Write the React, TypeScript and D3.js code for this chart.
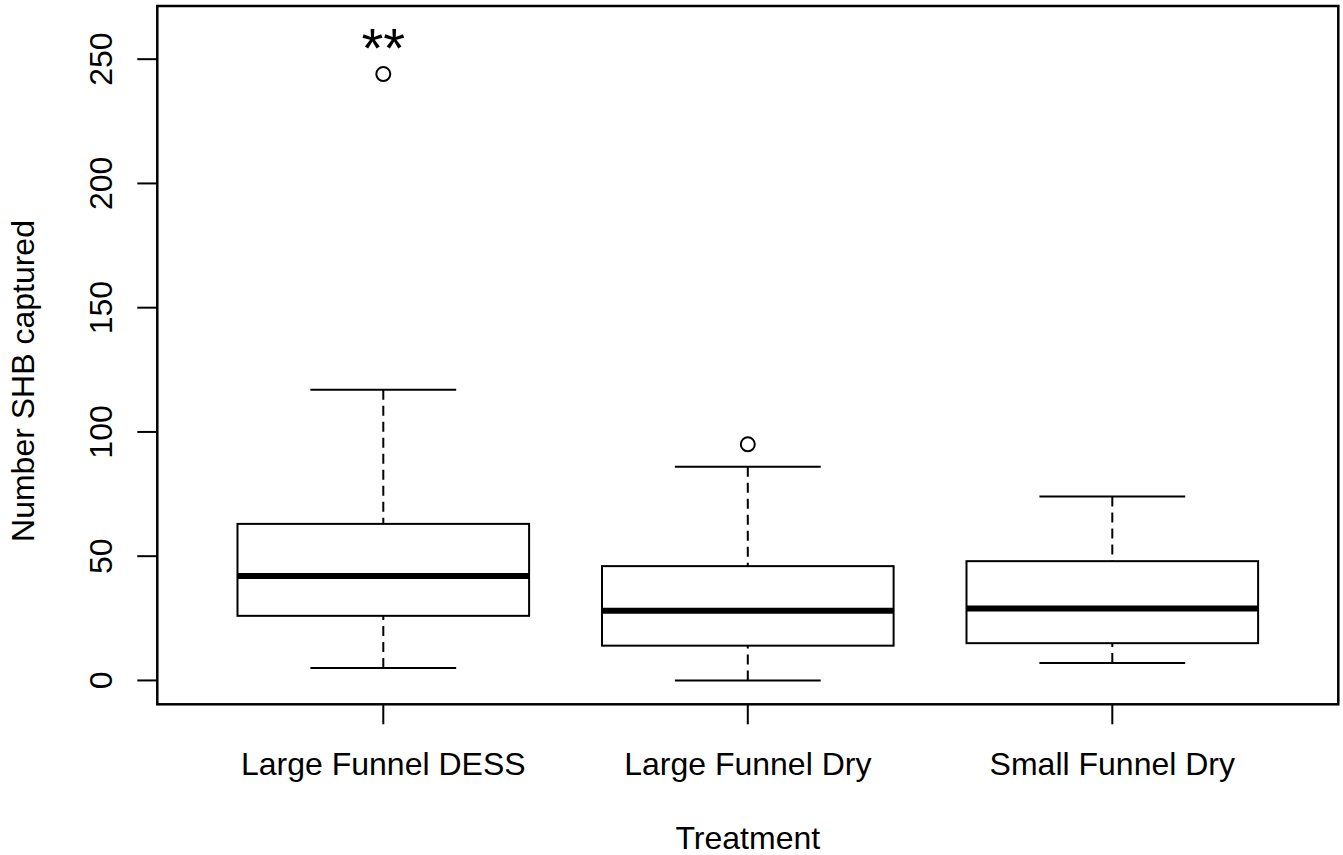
import React from "react";
import * as d3 from "d3";

// Trap catch of small hive beetles (SHB) by treatment
const categories = ["Large Funnel DESS", "Large Funnel Dry", "Small Funnel Dry"];
const lowerWhisker = [5, 0, 7];
const q1 = [26, 14, 15];
const median = [42, 28, 29];
const q3 = [63, 46, 48];
const upperWhisker = [117, 86, 74];
const outliers: number[][] = [[244], [95], []];
const yTicks = [0, 50, 100, 150, 200, 250];
const significance = ["**", "", ""];
const significanceLevel = 255;

const W = 1343;
const H = 855;
const plot = { left: 157.3, right: 1338.3, top: 6, bottom: 704.3 };
const FONT = "'Liberation Sans', Arial, Helvetica, sans-serif";

export default function App() {
  const x = d3.scaleLinear().domain([0.38, 3.62]).range([plot.left, plot.right]);
  const y = d3.scaleLinear().domain([-9.6, 271.4]).range([plot.bottom, plot.top]);
  const boxHalf = 0.4;
  const capHalf = 0.2;

  return (
    <svg
      width={W}
      height={H}
      viewBox={`0 0 ${W} ${H}`}
      style={{ position: "absolute", left: 0, top: 0, background: "#fff" }}
      fontFamily={FONT}
    >
      <rect x={0} y={0} width={W} height={H} fill="#fff" />

      {categories.map((c, i) => {
        const k = i + 1;
        const cx = x(k);
        const bl = x(k - boxHalf);
        const br = x(k + boxHalf);
        return (
          <g key={c}>
            {/* whiskers */}
            <line x1={cx} x2={cx} y1={y(upperWhisker[i])} y2={y(q3[i])} stroke="#000" strokeWidth={2} strokeDasharray="10,6" />
            <line x1={cx} x2={cx} y1={y(lowerWhisker[i])} y2={y(q1[i])} stroke="#000" strokeWidth={2} strokeDasharray="10,6" />
            <line x1={x(k - capHalf)} x2={x(k + capHalf)} y1={y(upperWhisker[i])} y2={y(upperWhisker[i])} stroke="#000" strokeWidth={2} />
            <line x1={x(k - capHalf)} x2={x(k + capHalf)} y1={y(lowerWhisker[i])} y2={y(lowerWhisker[i])} stroke="#000" strokeWidth={2} />
            {/* box */}
            <rect x={bl} y={y(q3[i])} width={br - bl} height={y(q1[i]) - y(q3[i])} fill="#fff" stroke="#000" strokeWidth={2} />
            <line x1={bl} x2={br} y1={y(median[i])} y2={y(median[i])} stroke="#000" strokeWidth={6} />
            {/* outliers */}
            {outliers[i].map((v, j) => (
              <circle key={j} cx={cx} cy={y(v)} r={7} fill="none" stroke="#000" strokeWidth={2} />
            ))}
            {significance[i] && (
              <text x={cx} y={y(significanceLevel) + 20} textAnchor="middle" fontSize={56} fill="#000">
                {significance[i]}
              </text>
            )}
          </g>
        );
      })}

      {/* frame */}
      <rect x={plot.left} y={plot.top} width={plot.right - plot.left} height={plot.bottom - plot.top} fill="none" stroke="#000" strokeWidth={2.5} />

      {/* y axis */}
      {yTicks.map((t) => (
        <g key={t}>
          <line x1={plot.left - 20} x2={plot.left} y1={y(t)} y2={y(t)} stroke="#000" strokeWidth={2} />
          <text
            transform={`translate(${plot.left - 45},${y(t)}) rotate(-90)`}
            textAnchor="middle"
            fontSize={32}
            fill="#000"
          >
            {t}
          </text>
        </g>
      ))}

      {/* x axis */}
      {categories.map((c, i) => (
        <g key={c}>
          <line x1={x(i + 1)} x2={x(i + 1)} y1={plot.bottom} y2={plot.bottom + 20} stroke="#000" strokeWidth={2} />
          <text x={x(i + 1)} y={775} textAnchor="middle" fontSize={32} fill="#000">
            {c}
          </text>
        </g>
      ))}

      <text x={(plot.left + plot.right) / 2} y={849} textAnchor="middle" fontSize={32} fill="#000">
        Treatment
      </text>
      <text
        transform={`translate(34,381) rotate(-90)`}
        textAnchor="middle"
        fontSize={32}
        fill="#000"
      >
        Number SHB captured
      </text>
    </svg>
  );
}
